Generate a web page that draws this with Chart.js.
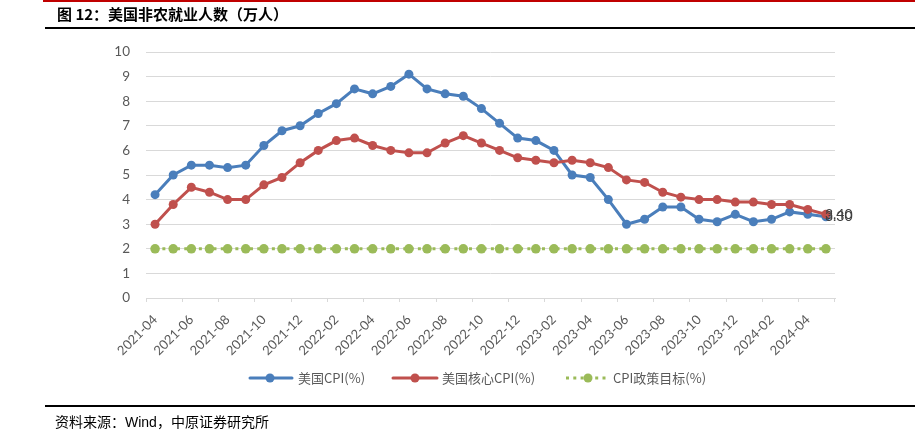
<!DOCTYPE html>
<html>
<head>
<meta charset="utf-8">
<script src="https://cdn.jsdelivr.net/npm/chart.js@4.4.0/dist/chart.umd.min.js"></script>
<style>
  html, body { margin: 0; padding: 0; background: #fff; }
  body { width: 915px; height: 438px; position: relative; overflow: hidden; font-family: "Noto Sans CJK SC", sans-serif; }
  #wrap { position: absolute; left: 0; top: 0; width: 915px; height: 438px; }
  .redline { position: absolute; left: 43px; top: 0; width: 872px; height: 1.5px; background: #c00000; }
  .blackline { position: absolute; left: 45px; width: 870px; height: 2px; background: #000; }
  #title { position: absolute; left: 57px; top: 4px; font-size: 15px; font-weight: bold; color: #000; line-height: 20px; white-space: nowrap; }
  #footer { position: absolute; left: 55px; top: 411px; font-size: 14px; color: #000; line-height: 20px; white-space: nowrap; }
  #footer .latin { font-family: "Liberation Sans", Arial, sans-serif; }
</style>
</head>
<body>
<div id="wrap"><canvas id="c" width="915" height="438"></canvas></div>
<div class="redline"></div>
<div id="title">图 12：美国非农就业人数（万人）</div>
<div class="blackline" style="top:27px"></div>
<div class="blackline" style="top:405px"></div>
<div id="footer">资料来源：<span class="latin">Wind</span>，中原证券研究所</div>
<script>
const categories = [
  "2021-04","2021-05","2021-06","2021-07","2021-08","2021-09","2021-10","2021-11","2021-12",
  "2022-01","2022-02","2022-03","2022-04","2022-05","2022-06","2022-07","2022-08","2022-09","2022-10","2022-11","2022-12",
  "2023-01","2023-02","2023-03","2023-04","2023-05","2023-06","2023-07","2023-08","2023-09","2023-10","2023-11","2023-12",
  "2024-01","2024-02","2024-03","2024-04","2024-05"
];
const cpi = [4.2,5.0,5.4,5.4,5.3,5.4,6.2,6.8,7.0,
  7.5,7.9,8.5,8.3,8.6,9.1,8.5,8.3,8.2,7.7,7.1,6.5,
  6.4,6.0,5.0,4.9,4.0,3.0,3.2,3.7,3.7,3.2,3.1,3.4,
  3.1,3.2,3.5,3.4,3.3];
const coreCpi = [3.0,3.8,4.5,4.3,4.0,4.0,4.6,4.9,5.5,
  6.0,6.4,6.5,6.2,6.0,5.9,5.9,6.3,6.6,6.3,6.0,5.7,
  5.6,5.5,5.6,5.5,5.3,4.8,4.7,4.3,4.1,4.0,4.0,3.9,
  3.9,3.8,3.8,3.6,3.4];
const target = [2,2,2,2,2,2,2,2,2,
  2,2,2,2,2,2,2,2,2,2,2,2,
  2,2,2,2,2,2,2,2,2,2,2,2,
  2,2,2,2,2];
const seriesNames = ["美国CPI(%)", "美国核心CPI(%)", "CPI政策目标(%)"];
const yTicks = [0,1,2,3,4,5,6,7,8,9,10];

const BLUE = "#4a7ebb", RED = "#c0504d", GREEN = "#9bbb59";
const TICK_FONT = "Lato, 'Noto Sans', sans-serif";
const DOTS = [3, 4.3];

const endLabels = {
  id: "endLabels",
  afterDatasetsDraw(chart) {
    const ctx = chart.ctx;
    ctx.save();
    ctx.font = "14px " + TICK_FONT;
    ctx.fillStyle = "#404040";
    ctx.textAlign = "left";
    ctx.textBaseline = "middle";
    [0, 1].forEach(di => {
      const meta = chart.getDatasetMeta(di);
      const pt = meta.data[meta.data.length - 1];
      const v = chart.data.datasets[di].data[meta.data.length - 1];
      ctx.fillText(v.toFixed(2), pt.x - 1, pt.y);
    });
    ctx.restore();
  }
};

const customLegend = {
  id: "customLegend",
  afterDraw(chart) {
    const ctx = chart.ctx;
    const y = 378;
    const items = [
      { x0: 250, x1: 292, mx: 270, tx: 298, color: BLUE, dash: [] },
      { x0: 393, x1: 437, mx: 415, tx: 442, color: RED, dash: [] },
      { x0: 566, x1: 608, mx: 588, tx: 613, color: GREEN, dash: DOTS }
    ];
    ctx.save();
    items.forEach((it, i) => {
      ctx.strokeStyle = it.color;
      ctx.lineWidth = 3;
      ctx.lineCap = it.dash.length ? "butt" : "round";
      ctx.setLineDash(it.dash);
      ctx.beginPath();
      ctx.moveTo(it.x0, y);
      ctx.lineTo(it.x1, y);
      ctx.stroke();
      ctx.setLineDash([]);
      ctx.fillStyle = it.color;
      ctx.beginPath();
      ctx.arc(it.mx, y, 4.5, 0, Math.PI * 2);
      ctx.fill();
      ctx.fillStyle = "#595959";
      ctx.font = "13px 'Noto Sans CJK SC', sans-serif";
      ctx.textAlign = "left";
      ctx.textBaseline = "middle";
      ctx.fillText(seriesNames[i], it.tx, y);
    });
    ctx.restore();
  }
};

new Chart(document.getElementById("c"), {
  type: "line",
  data: {
    labels: categories,
    datasets: [
      { label: seriesNames[0], data: cpi, borderColor: BLUE, backgroundColor: BLUE,
        borderWidth: 3, pointRadius: 4.5, pointHoverRadius: 4.5, pointBackgroundColor: BLUE, pointBorderWidth: 0, tension: 0, order: 1 },
      { label: seriesNames[1], data: coreCpi, borderColor: RED, backgroundColor: RED,
        borderWidth: 3, pointRadius: 4.5, pointHoverRadius: 4.5, pointBackgroundColor: RED, pointBorderWidth: 0, tension: 0, order: 0 },
      { label: seriesNames[2], data: target, borderColor: GREEN, backgroundColor: GREEN,
        borderWidth: 3, borderDash: DOTS, borderCapStyle: "butt", pointRadius: 4.8, pointHoverRadius: 4.8,
        pointBackgroundColor: GREEN, pointBorderWidth: 0, tension: 0, order: 2 }
    ]
  },
  options: {
    responsive: false,
    animation: false,
    events: [],
    layout: { padding: { left: 100, right: 80, top: 52, bottom: 80 } },
    plugins: { legend: { display: false }, tooltip: { enabled: false } },
    scales: {
      x: {
        type: "category",
        offset: true,
        afterFit(s) { s.height = 60; },
        border: { display: true, color: "#d9d9d9", width: 1 },
        grid: {
          offset: true,
          drawOnChartArea: false,
          drawTicks: true,
          tickLength: 4,
          color: c => (c.index === undefined || c.index % 2 === 0) ? "#d9d9d9" : "rgba(0,0,0,0)"
        },
        ticks: {
          autoSkip: false,
          minRotation: 45,
          maxRotation: 45,
          padding: 10,
          color: "#595959",
          font: { family: TICK_FONT, size: 13 },
          callback(value, index) { return index % 2 === 0 ? this.getLabelForValue(value) : ""; }
        }
      },
      y: {
        min: yTicks[0],
        max: yTicks[yTicks.length - 1],
        afterFit(s) { s.width = 46; },
        afterBuildTicks(s) { s.ticks = yTicks.map(v => ({ value: v })); },
        border: { display: false },
        grid: { color: "#d9d9d9", lineWidth: 1, drawTicks: false },
        ticks: {
          stepSize: 1,
          padding: 16,
          color: "#595959",
          font: { family: TICK_FONT, size: 13.5 }
        }
      }
    }
  },
  plugins: [endLabels, customLegend]
});
</script>
</body>
</html>
